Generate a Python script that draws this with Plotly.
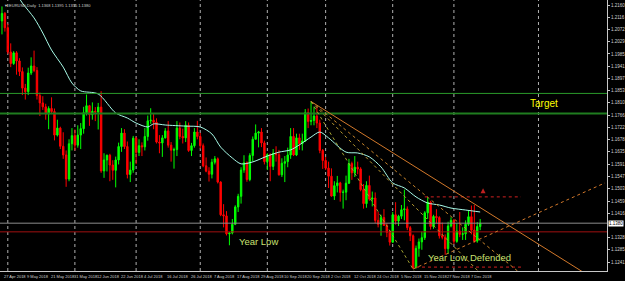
import plotly.graph_objects as go

# ---------------- data (EURUSD Daily) ----------------
opens = [1.2103,1.2130,1.2079,1.1992,1.1951,1.1989,1.1960,1.1922,1.1863,1.1850,
 1.1917,1.1942,1.1926,1.1836,1.1810,1.1796,1.1770,1.1790,1.1779,1.1695,
 1.1720,1.1655,1.1624,1.1538,1.1664,1.1693,1.1659,1.1695,1.1718,1.1775,
 1.1800,1.1768,1.1780,1.1777,1.1795,1.1567,1.1606,1.1623,1.1588,1.1569,
 1.1606,1.1654,1.1702,1.1654,1.1554,1.1570,1.1684,1.1633,1.1657,1.1653,
 1.1690,1.1746,1.1748,1.1741,1.1670,1.1667,1.1685,1.1710,1.1659,1.1641,
 1.1643,1.1720,1.1690,1.1685,1.1730,1.1640,1.1657,1.1706,1.1690,1.1657,
 1.1585,1.1566,1.1555,1.1598,1.1610,1.1527,1.1410,1.1406,1.1342,1.1345,
 1.1376,1.1438,1.1476,1.1570,1.1596,1.1536,1.1622,1.1680,1.1702,1.1706,
 1.1667,1.1600,1.1625,1.1583,1.1630,1.1625,1.1553,1.1594,1.1600,1.1624,
 1.1690,1.1624,1.1685,1.1664,1.1674,1.1775,1.1744,1.1747,1.1763,1.1738,
 1.1640,1.1604,1.1577,1.1548,1.1477,1.1514,1.1524,1.1490,1.1491,1.1523,
 1.1593,1.1560,1.1580,1.1574,1.1500,1.1450,1.1515,1.1466,1.1470,1.1390,
 1.1376,1.1400,1.1372,1.1347,1.1312,1.1410,1.1388,1.1405,1.1428,1.1431,
 1.1364,1.1335,1.1220,1.1290,1.1313,1.1328,1.1417,1.1455,1.1368,1.1404,
 1.1400,1.1335,1.1330,1.1289,1.1370,1.1390,1.1315,1.1352,1.1340,1.1342,
 1.1376,1.1403,1.1355,1.1316,1.1368]
highs = [1.2155,1.2135,1.2093,1.2023,1.1995,1.1995,1.1970,1.1937,1.1878,1.1936,
 1.1973,1.1997,1.1938,1.1847,1.1834,1.1807,1.1798,1.1830,1.1790,1.1750,
 1.1725,1.1705,1.1640,1.1680,1.1720,1.1715,1.1730,1.1738,1.1796,1.1840,
 1.1803,1.1812,1.1795,1.1810,1.1852,1.1630,1.1625,1.1628,1.1605,1.1618,
 1.1668,1.1720,1.1716,1.1672,1.1600,1.1692,1.1689,1.1680,1.1669,1.1720,
 1.1765,1.1791,1.1770,1.1755,1.1695,1.1695,1.1720,1.1745,1.1670,1.1650,
 1.1745,1.1740,1.1718,1.1745,1.1740,1.1667,1.1720,1.1746,1.1703,1.1665,
 1.1615,1.1580,1.1610,1.1620,1.1615,1.1530,1.1448,1.1423,1.1347,1.1395,
 1.1444,1.1485,1.1580,1.1623,1.1601,1.1630,1.1690,1.1733,1.1710,1.1720,
 1.1675,1.1630,1.1630,1.1645,1.1655,1.1642,1.1612,1.1620,1.1650,1.1720,
 1.1720,1.1700,1.1700,1.1700,1.1788,1.1790,1.1815,1.1796,1.1795,1.1750,
 1.1645,1.1617,1.1600,1.1576,1.1530,1.1549,1.1528,1.1500,1.1550,1.1610,
 1.1600,1.1620,1.1600,1.1580,1.1520,1.1530,1.1550,1.1493,1.1490,1.1420,
 1.1410,1.1430,1.1380,1.1355,1.1420,1.1455,1.1410,1.1445,1.1500,1.1440,
 1.1370,1.1340,1.1300,1.1325,1.1350,1.1423,1.1472,1.1460,1.1410,1.1430,
 1.1405,1.1382,1.1340,1.1385,1.1401,1.1395,1.1380,1.1420,1.1365,1.1390,
 1.1425,1.1443,1.1445,1.1384,1.1395]
lows = [1.2055,1.2065,1.1985,1.1938,1.1946,1.1911,1.1906,1.1838,1.1822,1.1838,
 1.1910,1.1920,1.1822,1.1763,1.1785,1.1750,1.1716,1.1770,1.1676,1.1690,
 1.1645,1.1610,1.1510,1.1530,1.1640,1.1640,1.1650,1.1645,1.1700,1.1765,
 1.1728,1.1750,1.1745,1.1715,1.1560,1.1542,1.1565,1.1530,1.1535,1.1508,
 1.1590,1.1635,1.1645,1.1540,1.1527,1.1560,1.1591,1.1620,1.1620,1.1640,
 1.1675,1.1735,1.1716,1.1665,1.1630,1.1617,1.1683,1.1650,1.1600,1.1575,
 1.1620,1.1680,1.1665,1.1670,1.1635,1.1620,1.1650,1.1680,1.1646,1.1580,
 1.1562,1.1529,1.1540,1.1590,1.1522,1.1405,1.1365,1.1336,1.1301,1.1340,
 1.1373,1.1420,1.1450,1.1560,1.1528,1.1530,1.1600,1.1680,1.1651,1.1652,
 1.1590,1.1570,1.1530,1.1570,1.1600,1.1550,1.1545,1.1527,1.1580,1.1610,
 1.1620,1.1620,1.1642,1.1640,1.1670,1.1720,1.1730,1.1730,1.1720,1.1630,
 1.1574,1.1570,1.1506,1.1475,1.1463,1.1490,1.1457,1.1432,1.1462,1.1520,
 1.1535,1.1545,1.1555,1.1494,1.1432,1.1435,1.1460,1.1440,1.1380,1.1365,
 1.1335,1.1370,1.1330,1.1300,1.1310,1.1375,1.1370,1.1395,1.1390,1.1355,
 1.1316,1.1216,1.1220,1.1260,1.1285,1.1320,1.1395,1.1357,1.1360,1.1380,
 1.1325,1.1322,1.1267,1.1270,1.1365,1.1305,1.1310,1.1330,1.1320,1.1320,
 1.1370,1.1340,1.1310,1.1310,1.1355]
closes = [1.2130,1.2079,1.1992,1.1951,1.1989,1.1960,1.1922,1.1863,1.1850,1.1917,
 1.1942,1.1926,1.1836,1.1810,1.1796,1.1770,1.1790,1.1779,1.1695,1.1720,
 1.1655,1.1624,1.1538,1.1664,1.1693,1.1659,1.1695,1.1718,1.1775,1.1800,
 1.1768,1.1780,1.1777,1.1795,1.1567,1.1606,1.1623,1.1588,1.1569,1.1606,
 1.1654,1.1702,1.1654,1.1554,1.1570,1.1684,1.1633,1.1657,1.1653,1.1690,
 1.1746,1.1748,1.1741,1.1670,1.1667,1.1685,1.1710,1.1659,1.1641,1.1643,
 1.1720,1.1690,1.1685,1.1730,1.1640,1.1657,1.1706,1.1690,1.1657,1.1585,
 1.1566,1.1555,1.1598,1.1610,1.1527,1.1410,1.1406,1.1342,1.1345,1.1376,
 1.1438,1.1476,1.1570,1.1596,1.1536,1.1622,1.1680,1.1702,1.1706,1.1667,
 1.1600,1.1625,1.1583,1.1630,1.1625,1.1553,1.1594,1.1600,1.1624,1.1690,
 1.1624,1.1685,1.1664,1.1674,1.1775,1.1744,1.1747,1.1763,1.1738,1.1640,
 1.1604,1.1577,1.1548,1.1477,1.1514,1.1524,1.1490,1.1491,1.1523,1.1593,
 1.1560,1.1580,1.1574,1.1500,1.1450,1.1515,1.1466,1.1470,1.1390,1.1376,
 1.1400,1.1372,1.1347,1.1312,1.1410,1.1388,1.1405,1.1428,1.1431,1.1364,
 1.1335,1.1220,1.1290,1.1313,1.1328,1.1417,1.1455,1.1368,1.1404,1.1400,
 1.1335,1.1330,1.1289,1.1370,1.1390,1.1315,1.1352,1.1340,1.1342,1.1376,
 1.1403,1.1355,1.1316,1.1368,1.1380]

# moving average (bar index, value)
ma_bars = [5, 7, 11, 14, 17, 21, 24, 27, 33, 39, 43, 46, 50, 52, 56, 63, 68, 72, 75,
           79, 82, 86, 91, 95, 99, 102, 106, 109, 112, 118, 122, 126, 130, 134, 138,
           142, 146, 150, 154, 159, 164]
ma_values = [1.2200, 1.2167, 1.2114, 1.2060, 1.1999, 1.1938, 1.1881, 1.1853, 1.1842,
             1.1774, 1.1756, 1.1738, 1.1724, 1.1735, 1.1731, 1.1727, 1.1724, 1.1699,
             1.1652, 1.1613, 1.1592, 1.1599, 1.1620, 1.1634, 1.1642, 1.1660, 1.1688,
             1.1706, 1.1685, 1.1634, 1.1631, 1.1617, 1.1581, 1.1524, 1.1506, 1.1474,
             1.1452, 1.1445, 1.1434, 1.1427, 1.1420]

x_labels = ["27 Apr 2018","9 May 2018","21 May 2018","31 May 2018","12 Jun 2018",
 "22 Jun 2018","4 Jul 2018","16 Jul 2018","26 Jul 2018","7 Aug 2018","17 Aug 2018",
 "29 Aug 2018","10 Sep 2018","20 Sep 2018","2 Oct 2018","12 Oct 2018","24 Oct 2018",
 "5 Nov 2018","15 Nov 2018","27 Nov 2018","7 Dec 2018"]
x_label_bars = list(range(0, 161, 8))
month_sep_bars = [2, 25, 46, 68, 91, 111, 134, 155, 184]
y_ticks = [1.2160,1.2116,1.2072,1.2029,1.1985,1.1941,1.1897,1.1853,1.1810,1.1766,
 1.1722,1.1678,1.1635,1.1591,1.1547,1.1503,1.1459,1.1416,1.1328,1.1285,1.1241]

target_levels = [1.1844, 1.1772]
support_level = 1.1349
peak = (106, 1.1815)
low = (141, 1.1216)
fan_ratios = [0.382, 0.5, 0.618, 1.0]
rising_target = (206.8, 1.1524)
box_high = (1.1474, 145, 178)
box_low = (1.1223, 142, 178)
arrow_pt = (165, 1.1505)

n = len(closes)
bars = list(range(n))

Y_MIN, Y_MAX = 1.1209, 1.2178
X_MIN, X_MAX = -0.68, 207.5

fig = go.Figure()
fig.add_trace(go.Candlestick(
    x=bars, open=opens, high=highs, low=lows, close=closes,
    increasing=dict(line=dict(color="#00ff00", width=1), fillcolor="#00ff00"),
    decreasing=dict(line=dict(color="#ff0000", width=1), fillcolor="#ff0000"),
    whiskerwidth=0, showlegend=False, hoverinfo="skip"))
fig.add_trace(go.Scatter(x=ma_bars, y=ma_values, mode="lines",
    line=dict(color="#a8fbe8", width=1, shape="spline", smoothing=0.8),
    showlegend=False, hoverinfo="skip"))

shapes = []
for b in month_sep_bars:
    shapes.append(dict(type="line", xref="x", yref="paper", x0=b, x1=b, y0=0, y1=1,
                       line=dict(color="#b0b0b0", width=1, dash="dot"), layer="below"))
shapes.append(dict(type="line", xref="paper", yref="y", x0=0, x1=1, y0=target_levels[0],
                   y1=target_levels[0], line=dict(color="#2a9a2a", width=1)))
shapes.append(dict(type="line", xref="paper", yref="y", x0=0, x1=1, y0=target_levels[1],
                   y1=target_levels[1], line=dict(color="#1f7d1f", width=2)))
shapes.append(dict(type="line", xref="paper", yref="y", x0=0, x1=1, y0=closes[-1],
                   y1=closes[-1], line=dict(color="#8c8c8c", width=1)))
shapes.append(dict(type="line", xref="paper", yref="y", x0=0, x1=1, y0=support_level,
                   y1=support_level, line=dict(color="#a01010", width=1)))
for lvl, a, b in (box_high, box_low):
    shapes.append(dict(type="line", xref="x", yref="y", x0=a, x1=b, y0=lvl, y1=lvl,
                       line=dict(color="#d02020", width=1, dash="dot")))
px, py = peak
lx, ly = low
fan_colors = {0.382: ("#d2782a", "solid"), 0.5: ("#c8842a", "dot"),
              0.618: ("#b89a30", "dot"), 1.0: ("#a0a030", "dot")}
for r in fan_ratios:
    ty = py - r * (py - ly)
    slope = (ty - py) / (lx - px)
    xe = 260
    col, dash = fan_colors[r]
    shapes.append(dict(type="line", xref="x", yref="y", x0=px, y0=py, x1=xe,
                       y1=py + slope * (xe - px), line=dict(color=col, width=1, dash=dash)))
shapes.append(dict(type="line", xref="x", yref="y", x0=lx, y0=ly, x1=rising_target[0],
                   y1=rising_target[1], line=dict(color="#d2782a", width=1, dash="dot")))

fig.add_trace(go.Scatter(x=[arrow_pt[0]], y=[arrow_pt[1]], mode="markers",
    marker=dict(symbol="arrow-up", size=5, color="#c02020"), showlegend=False,
    hoverinfo="skip"))

ann = []
for b, t in zip(x_label_bars, x_labels):
    ann.append(dict(x=b, y=0, xref="x", yref="paper", text=t, showarrow=False,
                    xanchor="left", yanchor="top", yshift=-1,
                    font=dict(size=4, color="#d0d0d0", family="Arial")))
ann.append(dict(x=180.5, y=1.1808, xref="x", yref="y", text="Target", showarrow=False,
                xanchor="left", yanchor="middle", font=dict(size=10, color="#ffff00",
                family="Arial")))
ann.append(dict(x=80.7, y=1.1313, xref="x", yref="y", text="Year Low", showarrow=False,
                xanchor="left", yanchor="middle", font=dict(size=9.5, color="#c8e070",
                family="Arial")))
ann.append(dict(x=145.3, y=1.1259, xref="x", yref="y", text="Year Low Defended",
                showarrow=False, xanchor="left", yanchor="middle",
                font=dict(size=9.5, color="#c8e070", family="Arial")))
ann.append(dict(x=0.003, y=1, xref="paper", yref="paper",
                text="\u25bc EURUSD,Daily  %.4f %.4f %.4f %.4f" % (opens[-1], highs[-1], lows[-1], closes[-1]),
                showarrow=False, xanchor="left", yanchor="top", yshift=-1,
                font=dict(size=4, color="#d0d0d0", family="Arial")))
ann.append(dict(x=1, y=closes[-1], xref="paper", yref="y", text="%.4f" % closes[-1],
                showarrow=False, xanchor="left", yanchor="middle", xshift=1,
                bgcolor="#ffffff", borderpad=0,
                font=dict(size=4.5, color="#000000", family="Arial")))

fig.update_layout(
    width=625, height=281, margin=dict(l=0, r=16, t=0, b=10),
    paper_bgcolor="#000000", plot_bgcolor="#000000",
    shapes=shapes, annotations=ann,
    xaxis=dict(range=[X_MIN, X_MAX], showgrid=False, zeroline=False,
               rangeslider=dict(visible=False), showticklabels=False,
               showline=True, linecolor="#c8c8c8", linewidth=1, mirror=False),
    yaxis=dict(range=[Y_MIN, Y_MAX], side="right", showgrid=False, zeroline=False,
               tickvals=y_ticks, ticktext=["%.4f" % v for v in y_ticks],
               tickfont=dict(size=4.5, color="#d0d0d0", family="Arial"),
               ticks="outside", ticklen=2, tickcolor="#c8c8c8",
               showline=True, linecolor="#c8c8c8", linewidth=1),
)
fig.write_html("out.html")
